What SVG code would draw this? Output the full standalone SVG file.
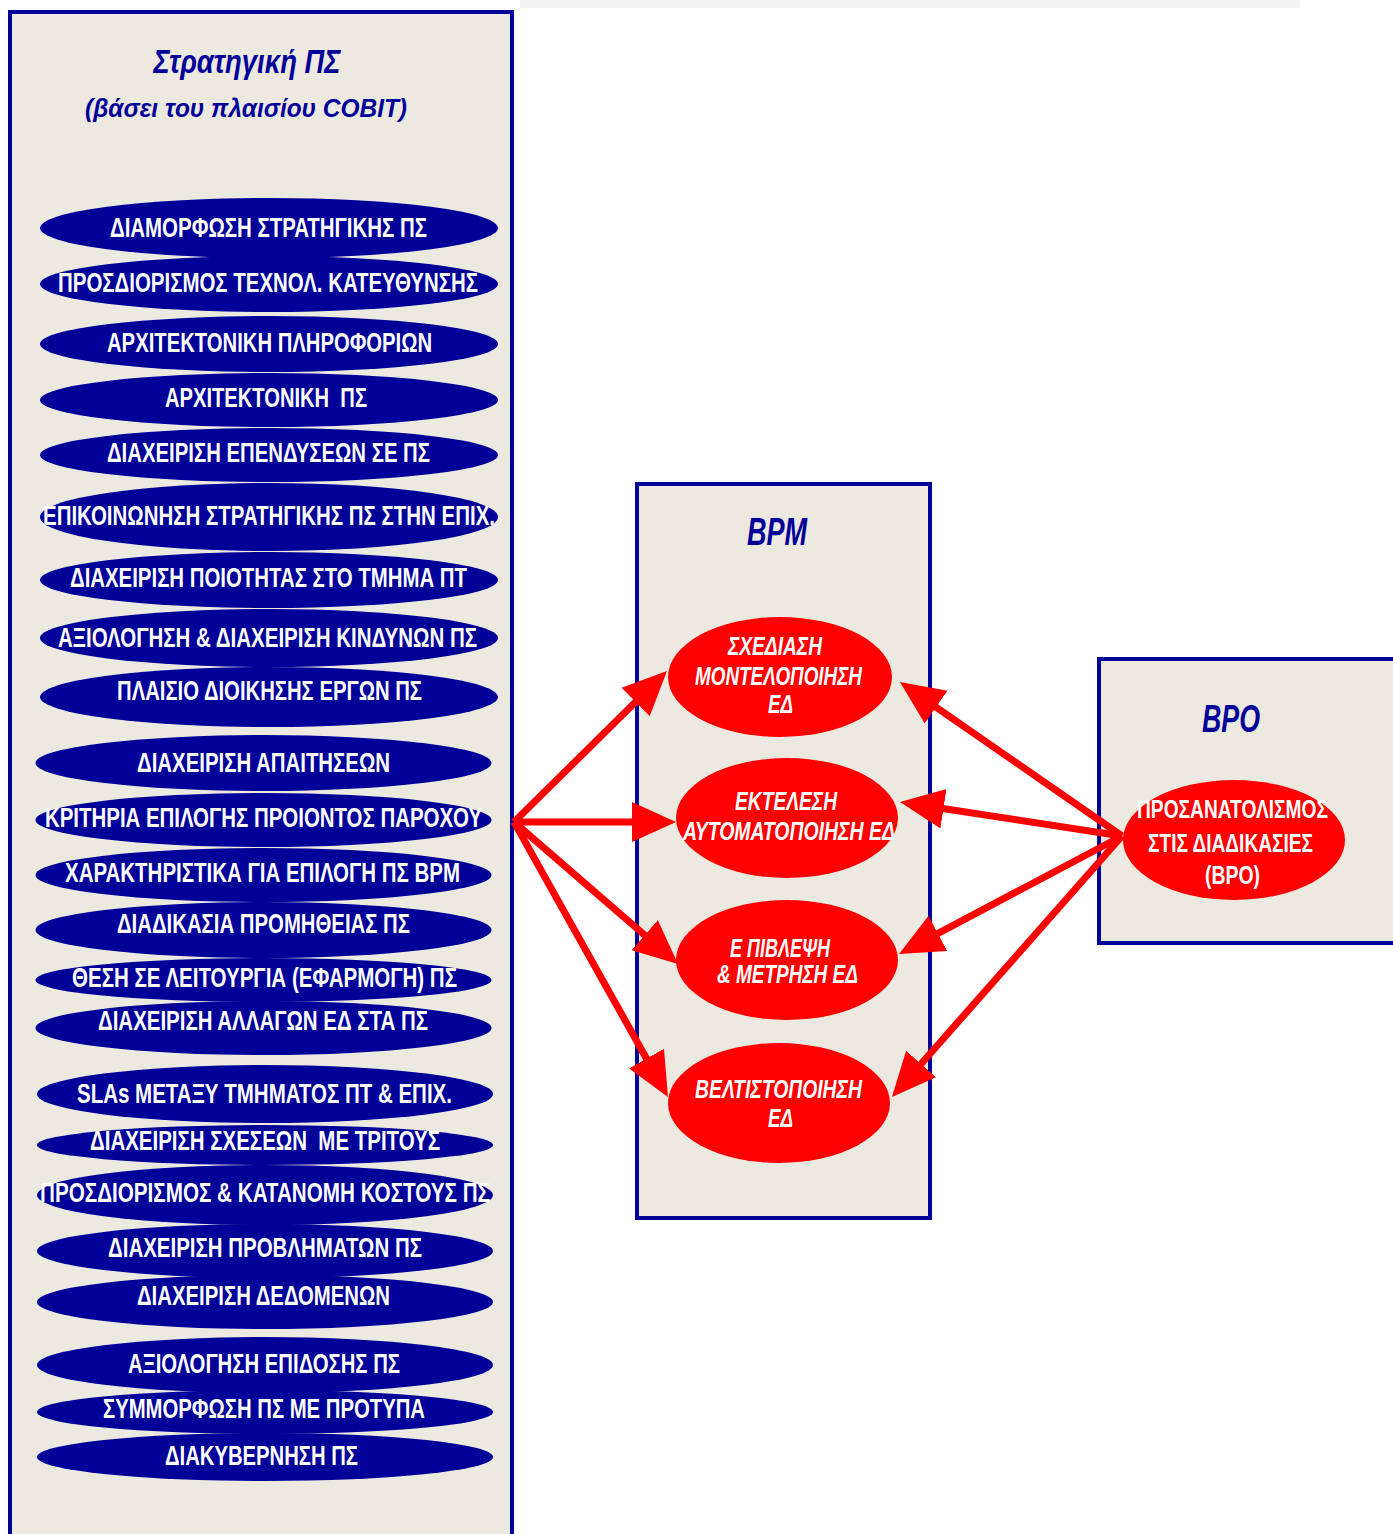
<svg xmlns="http://www.w3.org/2000/svg" width="1393" height="1534" viewBox="0 0 1393 1534">
<style>
.panel{fill:#ECE9E0;stroke:#000099;stroke-width:4}
.blue{fill:#000099}
.red{fill:#FF0000}
.lt{font-family:"Liberation Sans",Arial,sans-serif;font-weight:bold;font-size:27px;fill:#fff;text-anchor:middle}
.rt{font-family:"Liberation Sans",Arial,sans-serif;font-weight:bold;font-style:italic;font-size:25px;fill:#fff;text-anchor:middle}
.bt{font-family:"Liberation Sans",Arial,sans-serif;font-weight:bold;font-size:25px;fill:#fff;text-anchor:middle}
.ttl{font-family:"Liberation Sans",Arial,sans-serif;font-weight:bold;font-style:italic;fill:#000099;text-anchor:middle}
.arr{stroke:#FF0000;stroke-width:7;fill:none;marker-end:url(#ah)}
</style>
<defs>
<marker id="ah" markerUnits="userSpaceOnUse" markerWidth="44" markerHeight="44" viewBox="0 0 44 44" refX="19" refY="22" orient="auto">
<path d="M0,2 L44,22 L0,42 z" fill="#FF0000"/>
</marker>
</defs>
<rect x="0" y="0" width="1393" height="1534" fill="#fff"/>
<rect x="520" y="0" width="780" height="8" fill="#f4f4f4"/>

<g id="strategy-panel">
<rect class="panel" x="10" y="12" width="502" height="1540"/>
<text class="ttl" x="247" y="73" font-size="34" textLength="187" lengthAdjust="spacingAndGlyphs">Στρατηγική ΠΣ</text>
<text class="ttl" x="246" y="117" font-size="26" textLength="322" lengthAdjust="spacingAndGlyphs">(βάσει του πλαισίου COBIT)</text>
</g>

<g id="n1"><ellipse class="blue" cx="269" cy="228" rx="229" ry="30"/><text class="lt" x="268.5" y="237" textLength="317" lengthAdjust="spacingAndGlyphs">ΔΙΑΜΟΡΦΩΣΗ ΣΤΡΑΤΗΓΙΚΗΣ ΠΣ</text></g>
<g id="n2"><ellipse class="blue" cx="269" cy="284" rx="229" ry="28"/><text class="lt" x="268" y="292" textLength="420" lengthAdjust="spacingAndGlyphs">ΠΡΟΣΔΙΟΡΙΣΜΟΣ ΤΕΧΝΟΛ. ΚΑΤΕΥΘΥΝΣΗΣ</text></g>
<g id="n3"><ellipse class="blue" cx="269" cy="344" rx="229" ry="28"/><text class="lt" x="269.5" y="352" textLength="325" lengthAdjust="spacingAndGlyphs">ΑΡΧΙΤΕΚΤΟΝΙΚΗ ΠΛΗΡΟΦΟΡΙΩΝ</text></g>
<g id="n4"><ellipse class="blue" cx="269" cy="400" rx="229" ry="27"/><text class="lt" x="266" y="407" textLength="202" lengthAdjust="spacingAndGlyphs" xml:space="preserve">ΑΡΧΙΤΕΚΤΟΝΙΚΗ  ΠΣ</text></g>
<g id="n5"><ellipse class="blue" cx="269" cy="455" rx="229" ry="27"/><text class="lt" x="268.5" y="462" textLength="323" lengthAdjust="spacingAndGlyphs">ΔΙΑΧΕΙΡΙΣΗ ΕΠΕΝΔΥΣΕΩΝ ΣΕ ΠΣ</text></g>
<g id="n6"><ellipse class="blue" cx="269" cy="517" rx="229" ry="34"/><text class="lt" x="269" y="525" textLength="452" lengthAdjust="spacingAndGlyphs">ΕΠΙΚΟΙΝΩΝΗΣΗ ΣΤΡΑΤΗΓΙΚΗΣ ΠΣ ΣΤΗΝ ΕΠΙΧ.</text></g>
<g id="n7"><ellipse class="blue" cx="269" cy="580" rx="229" ry="28"/><text class="lt" x="268.5" y="587" textLength="397" lengthAdjust="spacingAndGlyphs">ΔΙΑΧΕΙΡΙΣΗ ΠΟΙΟΤΗΤΑΣ ΣΤΟ ΤΜΗΜΑ ΠΤ</text></g>
<g id="n8"><ellipse class="blue" cx="269" cy="638" rx="229" ry="29"/><text class="lt" x="267.5" y="647" textLength="419" lengthAdjust="spacingAndGlyphs">ΑΞΙΟΛΟΓΗΣΗ &amp; ΔΙΑΧΕΙΡΙΣΗ ΚΙΝΔΥΝΩΝ ΠΣ</text></g>
<g id="n9"><ellipse class="blue" cx="269" cy="697" rx="229" ry="30"/><text class="lt" x="269.5" y="700" textLength="305" lengthAdjust="spacingAndGlyphs">ΠΛΑΙΣΙΟ ΔΙΟΙΚΗΣΗΣ ΕΡΓΩΝ ΠΣ</text></g>

<g id="n10"><ellipse class="blue" cx="263.5" cy="763" rx="228" ry="28"/><text class="lt" x="263.5" y="772" textLength="253" lengthAdjust="spacingAndGlyphs">ΔΙΑΧΕΙΡΙΣΗ ΑΠΑΙΤΗΣΕΩΝ</text></g>
<g id="n11"><ellipse class="blue" cx="263.5" cy="820" rx="228" ry="27"/><text class="lt" x="263.5" y="827" textLength="437" lengthAdjust="spacingAndGlyphs">ΚΡΙΤΗΡΙΑ ΕΠΙΛΟΓΗΣ ΠΡΟΙΟΝΤΟΣ ΠΑΡΟΧΟΥ</text></g>
<g id="n12"><ellipse class="blue" cx="263.5" cy="875" rx="228" ry="27"/><text class="lt" x="262.5" y="882" textLength="395" lengthAdjust="spacingAndGlyphs">ΧΑΡΑΚΤΗΡΙΣΤΙΚΑ ΓΙΑ ΕΠΙΛΟΓΗ ΠΣ BPM</text></g>
<g id="n13"><ellipse class="blue" cx="263.5" cy="930" rx="228" ry="28"/><text class="lt" x="263.5" y="933" textLength="293" lengthAdjust="spacingAndGlyphs">ΔΙΑΔΙΚΑΣΙΑ ΠΡΟΜΗΘΕΙΑΣ ΠΣ</text></g>
<g id="n14"><ellipse class="blue" cx="263.5" cy="980" rx="228" ry="22"/><text class="lt" x="264.5" y="987" textLength="385" lengthAdjust="spacingAndGlyphs">ΘΕΣΗ ΣΕ ΛΕΙΤΟΥΡΓΙΑ (ΕΦΑΡΜΟΓΗ) ΠΣ</text></g>
<g id="n15"><ellipse class="blue" cx="263.5" cy="1028" rx="228" ry="27"/><text class="lt" x="263" y="1030" textLength="330" lengthAdjust="spacingAndGlyphs">ΔΙΑΧΕΙΡΙΣΗ ΑΛΛΑΓΩΝ ΕΔ ΣΤΑ ΠΣ</text></g>

<g id="n16"><ellipse class="blue" cx="265" cy="1094" rx="228" ry="29"/><text class="lt" x="264.5" y="1103" textLength="375" lengthAdjust="spacingAndGlyphs">SLAs ΜΕΤΑΞΥ ΤΜΗΜΑΤΟΣ ΠΤ &amp; ΕΠΙΧ.</text></g>
<g id="n17"><ellipse class="blue" cx="265" cy="1145" rx="228" ry="20"/><text class="lt" x="265" y="1150" textLength="350" lengthAdjust="spacingAndGlyphs" xml:space="preserve">ΔΙΑΧΕΙΡΙΣΗ ΣΧΕΣΕΩΝ  ΜΕ ΤΡΙΤΟΥΣ</text></g>
<g id="n18"><ellipse class="blue" cx="265" cy="1195" rx="228" ry="30"/><text class="lt" x="265" y="1202" textLength="450" lengthAdjust="spacingAndGlyphs">ΠΡΟΣΔΙΟΡΙΣΜΟΣ &amp; ΚΑΤΑΝΟΜΗ ΚΟΣΤΟΥΣ ΠΣ</text></g>
<g id="n19"><ellipse class="blue" cx="265" cy="1251" rx="228" ry="27"/><text class="lt" x="265" y="1257" textLength="314" lengthAdjust="spacingAndGlyphs">ΔΙΑΧΕΙΡΙΣΗ ΠΡΟΒΛΗΜΑΤΩΝ ΠΣ</text></g>
<g id="n20"><ellipse class="blue" cx="265" cy="1302" rx="228" ry="27"/><text class="lt" x="263.5" y="1305" textLength="253" lengthAdjust="spacingAndGlyphs">ΔΙΑΧΕΙΡΙΣΗ ΔΕΔΟΜΕΝΩΝ</text></g>

<g id="n21"><ellipse class="blue" cx="265" cy="1365" rx="228" ry="28"/><text class="lt" x="264" y="1373" textLength="272" lengthAdjust="spacingAndGlyphs">ΑΞΙΟΛΟΓΗΣΗ ΕΠΙΔΟΣΗΣ ΠΣ</text></g>
<g id="n22"><ellipse class="blue" cx="265" cy="1412" rx="228" ry="22"/><text class="lt" x="264" y="1418" textLength="322" lengthAdjust="spacingAndGlyphs">ΣΥΜΜΟΡΦΩΣΗ ΠΣ ΜΕ ΠΡΟΤΥΠΑ</text></g>
<g id="n23"><ellipse class="blue" cx="265" cy="1457" rx="228" ry="24"/><text class="lt" x="261.5" y="1465" textLength="193" lengthAdjust="spacingAndGlyphs">ΔΙΑΚΥΒΕΡΝΗΣΗ ΠΣ</text></g>

<g id="bpm-panel">
<rect class="panel" x="637" y="484" width="293" height="734"/>
<text class="ttl" x="777" y="545" font-size="38" textLength="60" lengthAdjust="spacingAndGlyphs">BPM</text>
</g>
<g id="bpo-panel">
<rect class="panel" x="1099" y="659" width="310" height="284"/>
<text class="ttl" x="1231" y="732" font-size="38" textLength="58" lengthAdjust="spacingAndGlyphs">BPO</text>
</g>

<g id="connectors">
<line class="arr" x1="514" y1="822" x2="649.2" y2="688.6"/>
<line class="arr" x1="514" y1="822" x2="651" y2="822"/>
<line class="arr" x1="514" y1="822" x2="659.1" y2="947.6"/>
<line class="arr" x1="514" y1="822" x2="655.8" y2="1075.2"/>
<line class="arr" x1="1122" y1="836" x2="920.5" y2="696.3"/>
<line class="arr" x1="1122" y1="836" x2="924.7" y2="805.8"/>
<line class="arr" x1="1122" y1="836" x2="921.1" y2="942.3"/>
<line class="arr" x1="1122" y1="836" x2="908.5" y2="1078.2"/>
</g>

<g id="e1"><ellipse class="red" cx="780" cy="677" rx="112" ry="60"/>
<text class="rt" x="775" y="655" textLength="94" lengthAdjust="spacingAndGlyphs">ΣΧΕΔΙΑΣΗ</text>
<text class="rt" x="778.5" y="685" textLength="167" lengthAdjust="spacingAndGlyphs">ΜΟΝΤΕΛΟΠΟΙΗΣΗ</text>
<text class="rt" x="780.5" y="713" textLength="25" lengthAdjust="spacingAndGlyphs">ΕΔ</text></g>
<g id="e2"><ellipse class="red" cx="787" cy="818" rx="111" ry="60"/>
<text class="rt" x="786" y="810" textLength="102" lengthAdjust="spacingAndGlyphs">ΕΚΤΕΛΕΣΗ</text>
<text class="rt" x="789" y="840" textLength="212" lengthAdjust="spacingAndGlyphs">ΑΥΤΟΜΑΤΟΠΟΙΗΣΗ ΕΔ</text></g>
<g id="e3"><ellipse class="red" cx="787" cy="960" rx="111" ry="60"/>
<text class="rt" x="780" y="957" textLength="100" lengthAdjust="spacingAndGlyphs">Ε ΠΙΒΛΕΨΗ</text>
<text class="rt" x="787.5" y="983" textLength="141" lengthAdjust="spacingAndGlyphs">&amp; ΜΕΤΡΗΣΗ ΕΔ</text></g>
<g id="e4"><ellipse class="red" cx="779" cy="1103" rx="111" ry="60"/>
<text class="rt" x="778.5" y="1098" textLength="167" lengthAdjust="spacingAndGlyphs">ΒΕΛΤΙΣΤΟΠΟΙΗΣΗ</text>
<text class="rt" x="780.5" y="1127" textLength="25" lengthAdjust="spacingAndGlyphs">ΕΔ</text></g>
<g id="bpo"><ellipse class="red" cx="1234" cy="840" rx="111" ry="60"/>
<text class="bt" x="1232.5" y="818" textLength="191" lengthAdjust="spacingAndGlyphs">ΠΡΟΣΑΝΑΤΟΛΙΣΜΟΣ</text>
<text class="bt" x="1230.5" y="852" textLength="165" lengthAdjust="spacingAndGlyphs">ΣΤΙΣ ΔΙΑΔΙΚΑΣΙΕΣ</text>
<text class="bt" x="1232.5" y="884" textLength="55" lengthAdjust="spacingAndGlyphs">(BPO)</text></g>
</svg>
